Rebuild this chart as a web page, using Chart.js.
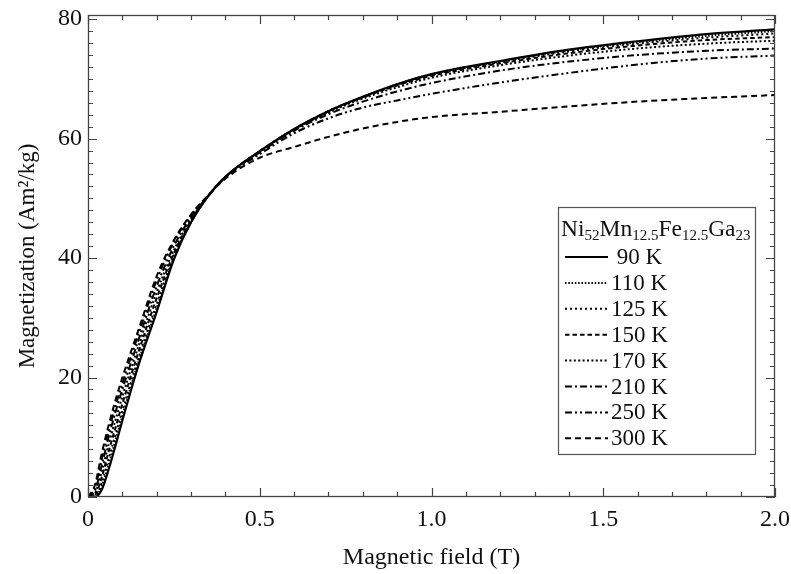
<!DOCTYPE html>
<html>
<head>
<meta charset="utf-8">
<script src="https://cdn.jsdelivr.net/npm/chart.js@4/dist/chart.umd.min.js"></script>
<style>
html,body{margin:0;padding:0;background:#fff;}
#wrap{width:791px;height:574px;position:relative;}
</style>
</head>
<body>
<div id="wrap"><canvas id="c" width="791" height="574"></canvas></div>
<script>
// ---- data ----
const fieldT = [0, 0.02, 0.04, 0.06, 0.08, 0.1, 0.15, 0.2, 0.25, 0.3, 0.35, 0.4, 0.5, 0.6, 0.7, 0.8, 0.9, 1.0, 1.2, 1.4, 1.6, 1.8, 2.0];
const m90K  = [0, 0,   1.2, 4.6, 8.6, 12.8, 22.6, 31.0, 39.8, 46.0, 50.4, 53.6, 57.9, 61.6, 64.6, 67.0, 69.1, 70.8, 73.0, 74.9, 76.3, 77.5, 78.3];
const m110K = [0, 0,   1.8, 5.5, 9.5, 13.6, 23.2, 31.6, 40.0, 46.0, 50.4, 53.6, 57.9, 61.6, 64.6, 67.0, 69.1, 70.8, 72.9, 74.8, 76.1, 77.2, 78.0];
const m125K = [0, 0.1, 2.4, 6.4, 10.4, 14.4, 23.8, 32.3, 40.3, 46.1, 50.4, 53.6, 57.9, 61.6, 64.6, 67.0, 69.0, 70.7, 72.8, 74.6, 75.9, 76.9, 77.6];
const m150K = [0, 0.3, 3.3, 7.6, 11.6, 15.6, 24.8, 33.3, 40.8, 46.3, 50.4, 53.6, 57.9, 61.6, 64.6, 66.9, 68.9, 70.5, 72.6, 74.3, 75.6, 76.5, 77.0];
const m170K = [0, 0.6, 4.3, 8.8, 12.9, 16.8, 25.8, 34.3, 41.3, 46.5, 50.4, 53.6, 57.8, 61.5, 64.4, 66.7, 68.6, 70.2, 72.3, 73.9, 75.1, 75.9, 76.4];
const m210K = [0, 1.0, 5.3, 10.0, 14.2, 18.0, 26.8, 35.3, 42.0, 46.8, 50.4, 53.6, 57.7, 61.3, 64.1, 66.2, 67.9, 69.3, 71.4, 72.9, 74.0, 74.7, 75.1];
const m250K = [0, 1.5, 6.3, 11.0, 15.2, 19.0, 27.8, 36.3, 42.7, 47.2, 50.5, 53.5, 57.4, 60.9, 63.4, 65.2, 66.4, 67.5, 69.4, 71.0, 72.4, 73.4, 73.9];
const m300K = [0, 2.0, 7.3, 12.0, 16.2, 20.0, 28.5, 37.0, 43.0, 47.3, 50.5, 53.3, 56.8, 58.6, 60.3, 61.7, 62.8, 63.6, 64.5, 65.4, 66.2, 66.8, 67.3];
const seriesLabels = ['90 K', '110 K', '125 K', '150 K', '170 K', '210 K', '250 K', '300 K'];
const seriesValues = [m90K, m110K, m125K, m150K, m170K, m210K, m250K, m300K];
const xTickValues = [0, 0.5, 1.0, 1.5, 2.0];
const yTickValues = [0, 20, 40, 60, 80];
const legendTitle = [['Ni', false], ['52', true], ['Mn', false], ['12.5', true], ['Fe', false], ['12.5', true], ['Ga', false], ['23', true]];

// ---- styles ----
const dashes = [[], [1.5, 1.8], [2, 3], [4.5, 3], [2, 2.4], [7, 3, 2, 3], [7, 3, 2, 3, 2, 3], [6, 4]];
const widths = [2.2, 2, 2, 2, 2, 2, 2, 2];
const SERIF = '"Liberation Serif", "Times New Roman", serif';

const datasets = seriesValues.map((vals, i) => ({
  label: seriesLabels[i],
  data: fieldT.map((x, k) => ({x: x, y: vals[k]})),
  borderColor: '#000',
  backgroundColor: '#000',
  borderWidth: widths[i],
  borderDash: dashes[i],
  pointRadius: 0,
  fill: false,
  cubicInterpolationMode: 'monotone'
}));

const frameTicks = {
  id: 'frameTicks',
  afterDatasetsDraw(chart) {
    const {ctx, chartArea: a, scales: {x, y}} = chart;
    ctx.save();
    ctx.strokeStyle = '#444';
    ctx.lineWidth = 1.2;
    ctx.beginPath();
    for (let i = 0; i <= 20; i++) {
      const v = i / 10;
      const px = Math.round(x.getPixelForValue(v)) + 0.5;
      const len = (i % 5 === 0) ? 9 : 5;
      ctx.moveTo(px, a.bottom); ctx.lineTo(px, a.bottom - len);
      ctx.moveTo(px, a.top); ctx.lineTo(px, a.top + len);
    }
    for (let i = 0; i <= 40; i++) {
      const v = i * 2;
      const py = Math.round(y.getPixelForValue(v)) + 0.5;
      const len = (i % 10 === 0) ? 9 : 5;
      ctx.moveTo(a.left, py); ctx.lineTo(a.left + len, py);
      ctx.moveTo(a.right, py); ctx.lineTo(a.right - len, py);
    }
    ctx.stroke();
    ctx.lineWidth = 1.3;
    ctx.strokeRect(a.left + 0.5, a.top + 0.5, a.right - a.left - 1, a.bottom - a.top - 1);
    ctx.restore();
  }
};

const customLegend = {
  id: 'customLegend',
  afterDraw(chart) {
    const ctx = chart.ctx;
    const bx = 558, by = 207, bw = 197, bh = 247;
    ctx.save();
    ctx.fillStyle = '#fff';
    ctx.fillRect(bx, by, bw, bh);
    ctx.strokeStyle = '#555';
    ctx.lineWidth = 1.2;
    ctx.strokeRect(bx + 0.5, by + 0.5, bw, bh);
    ctx.fillStyle = '#111';
    ctx.textBaseline = 'alphabetic';
    ctx.textAlign = 'left';
    let tx = 561;
    const tBase = 236;
    legendTitle.forEach(([t, sub]) => {
      ctx.font = (sub ? '15px ' : '23.5px ') + SERIF;
      ctx.fillText(t, tx, sub ? tBase + 4 : tBase);
      tx += ctx.measureText(t).width;
    });
    chart.data.datasets.forEach((ds, i) => {
      const cy = 257 + i * 25.9;
      ctx.beginPath();
      ctx.setLineDash(ds.borderDash || []);
      ctx.lineWidth = ds.borderWidth;
      ctx.strokeStyle = '#000';
      ctx.moveTo(565, cy); ctx.lineTo(608, cy);
      ctx.stroke();
      ctx.setLineDash([]);
      ctx.font = '23px ' + SERIF;
      ctx.textBaseline = 'middle';
      ctx.fillStyle = '#111';
      ctx.fillText(ds.label.padStart(5, ' '), 611, cy + 1);
    });
    ctx.restore();
  }
};

new Chart(document.getElementById('c'), {
  type: 'line',
  data: {datasets},
  options: {
    responsive: false,
    animation: false,
    layout: {padding: {top: 15, right: 16, left: 0, bottom: 0}},
    plugins: {legend: {display: false}, tooltip: {enabled: false}},
    scales: {
      x: {
        type: 'linear', min: 0, max: 2.0,
        afterBuildTicks: s => { s.ticks = xTickValues.map(v => ({value: v})); },
        afterFit: s => { s.height = 77; s.paddingLeft = 0; s.paddingRight = 0; },
        grid: {display: false, drawTicks: false},
        border: {display: false},
        ticks: {
          padding: 8, color: '#111', font: {family: SERIF, size: 24},
          maxRotation: 0,
          callback: v => v === 0 ? '0' : Number(v).toFixed(1)
        },
        title: {display: true, text: 'Magnetic field (T)', color: '#111',
          font: {family: SERIF, size: 24}, padding: {top: 0, bottom: 2}}
      },
      y: {
        type: 'linear', min: 0, max: 80.7,
        afterBuildTicks: s => { s.ticks = yTickValues.map(v => ({value: v})); },
        afterFit: s => { s.width = 88; s.paddingTop = 0; s.paddingBottom = 0; },
        grid: {display: false, drawTicks: false},
        border: {display: false},
        ticks: {padding: 6, color: '#111', font: {family: SERIF, size: 24}},
        title: {display: true, text: 'Magnetization (Am²/kg)', color: '#111',
          font: {family: SERIF, size: 23}, padding: {top: 14, bottom: 0}}
      }
    }
  },
  plugins: [frameTicks, customLegend]
});
</script>
</body>
</html>
